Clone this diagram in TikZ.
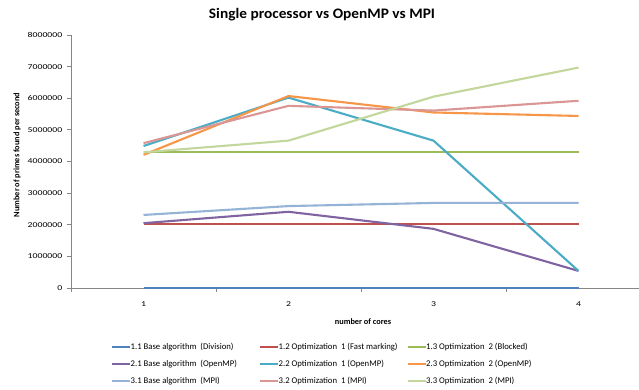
\documentclass[tikz,border=0pt]{standalone}
\usepackage{fontspec}
\setmainfont{Carlito}
\definecolor{axisgray}{HTML}{868686}
\definecolor{c11}{HTML}{4F81BD}
\definecolor{c12}{HTML}{C0504D}
\definecolor{c13}{HTML}{9BBB59}
\definecolor{c21}{HTML}{8064A2}
\definecolor{c22}{HTML}{4BACC6}
\definecolor{c23}{HTML}{F79646}
\definecolor{c31}{HTML}{95B3D7}
\definecolor{c32}{HTML}{D99694}
\definecolor{c33}{HTML}{C3D69B}
\begin{document}
\begin{tikzpicture}[x=1pt,y=-1pt,
  axisline/.style={draw=axisgray, line width=0.75pt},
  ticklab/.style={font=\fontsize{7.5}{9}\selectfont, inner sep=0pt},
  axtitle/.style={font=\bfseries\fontsize{8.3}{10}\selectfont, inner sep=0pt},
  legtext/.style={font=\fontsize{8.7}{10}\selectfont, inner sep=0pt, anchor=west},
  series/.style={line width=2.1pt, line join=round, line cap=butt},
  legline/.style={line width=2.1pt}]
\useasboundingbox (0,0) rectangle (639,390);
\fill[white] (0,0) rectangle (639,390);

% chart title
\node[font=\bfseries\fontsize{14.5}{16}\selectfont, anchor=base, inner sep=0pt] (title) at (322,18.5) {\scalebox{1.06}[1]{Single processor vs OpenMP vs MPI}};

% value axis with ticks and labels
\draw[axisline] (71,35) -- (71,288);
\foreach \v/\lab in {0/0,1/1000000,2/2000000,3/3000000,4/4000000,5/5000000,6/6000000,7/7000000,8/8000000}{
  \pgfmathsetmacro\yy{288-31.625*\v}
  \draw[axisline] (67,\yy) -- (71,\yy);
  \node[ticklab, anchor=east] (ylab\v) at (62.5,\yy) {\scalebox{1.3}[1]{\lab}};
}
\node[axtitle, rotate=90] (ytitle) at (17,155) {Number of primes found per second};

% category axis with ticks and labels
\draw[axisline] (71,288) -- (639,288);
\foreach \x in {71,216,361,506}{
  \draw[axisline] (\x,288) -- (\x,292);
}
\foreach \i/\x in {1/143.5,2/288.5,3/433.5,4/578.5}{
  \node[ticklab] (xlab\i) at (\x,304) {\scalebox{1.3}[1]{\i}};
}
\node[axtitle] (xtitle) at (363,322) {number of cores};

% data series (values in millions)
\begin{scope}[shift={(0,288)}, y=31.625pt]
  \foreach \col/\a/\b/\c/\d in {
      c11/0/0/0/0,
      c12/2.02/2.02/2.02/2.02,
      c13/4.29/4.29/4.29/4.29,
      c21/2.05/2.41/1.87/0.54,
      c22/4.49/6.02/4.66/0.54,
      c23/4.21/6.07/5.55/5.44,
      c31/2.31/2.59/2.69/2.69,
      c32/4.58/5.76/5.61/5.92,
      c33/4.29/4.66/6.05/6.97}{
    \draw[series, \col] (143.5,\a) -- (288.5,\b) -- (433.5,\c) -- (578.5,\d);
  }
\end{scope}

% legend
\foreach \r/\c/\col/\lab in {
    1/1/c11/{1.1 Base algorithm~ (Division)},
    1/2/c12/{1.2 Optimization~ 1 (Fast marking)},
    1/3/c13/{1.3 Optimization~ 2 (Blocked)},
    2/1/c21/{2.1 Base algorithm~ (OpenMP)},
    2/2/c22/{2.2 Optimization~ 1 (OpenMP)},
    2/3/c23/{2.3 Optimization~ 2 (OpenMP)},
    3/1/c31/{3.1 Base algorithm~ (MPI)},
    3/2/c32/{3.2 Optimization~ 1 (MPI)},
    3/3/c33/{3.3 Optimization~ 2 (MPI)}}{
  \pgfmathsetmacro\ly{347+17*(\r-1)}
  \pgfmathsetmacro\lx{ifthenelse(\c==1,112,ifthenelse(\c==2,260,407.5))}
  \coordinate (ls\r\c) at (\lx,\ly);
  \coordinate (le\r\c) at (\lx+18,\ly);
  \draw[legline, \col] (ls\r\c) -- (le\r\c);
  \node[legtext] (leg\r\c) at (\lx+18.5,\ly) {\lab};
}
\end{tikzpicture}
\end{document}
